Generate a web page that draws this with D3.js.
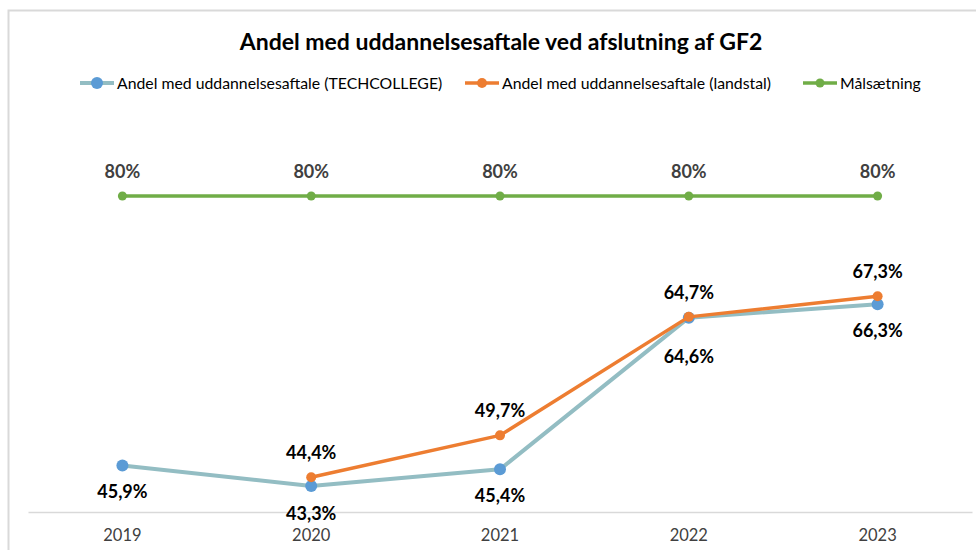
<!DOCTYPE html>
<html>
<head>
<meta charset="utf-8">
<script src="https://cdn.jsdelivr.net/npm/d3@7"></script>
<style>
  body { margin: 0; background: #fff; }
  svg { display: block; font-family: Lato, "Open Sans", sans-serif; }
</style>
</head>
<body>
<svg id="chart" width="976" height="550"></svg>
<script>
const years = ["2019", "2020", "2021", "2022", "2023"];
const techcollege = [45.9, 43.3, 45.4, 64.6, 66.3];
const landstal = [null, 44.4, 49.7, 64.7, 67.3];
const maal = [80, 80, 80, 80, 80];
const seriesNames = ["Andel med uddannelsesaftale (TECHCOLLEGE)", "Andel med uddannelsesaftale (landstal)", "Målsætning"];

const svg = d3.select("#chart");
const margin = {top: 117, left: 28, right: 4, bottom: 38};
const width = 976, height = 550;

// outer frame
svg.append("path")
  .attr("d", "M8.5," + height + " V10.5 H" + width)
  .attr("fill", "none").attr("stroke", "#d9d9d9").attr("stroke-width", 2);

const x = d3.scaleBand().domain(years).range([margin.left, width - margin.right]);
const y = d3.scaleLinear().domain([40, 90]).range([height - margin.bottom, margin.top]);
const cx = d => x(d) + x.bandwidth() / 2;

// title
svg.append("text").attr("x", 501).attr("y", 50).attr("text-anchor", "middle")
  .attr("font-size", 23).attr("font-weight", "bold").attr("fill", "#000")
  .text("Andel med uddannelsesaftale ved afslutning af GF2");

// x axis
const xAxis = svg.append("g").attr("transform", "translate(0," + y(40) + ")")
  .call(d3.axisBottom(x).tickSize(0).tickPadding(17));
xAxis.select(".domain").attr("stroke", "#d9d9d9").attr("stroke-width", 1.5);
xAxis.selectAll("text").attr("font-size", 16.5).attr("fill", "#404040").attr("font-family", "Lato, sans-serif");

const series = [
  {name: seriesNames[0], values: techcollege, line: "#93bdc3", dot: "#5b9bd5", lw: 4, r: 6},
  {name: seriesNames[1], values: landstal, line: "#ed7d31", dot: "#ed7d31", lw: 3.5, r: 5},
  {name: seriesNames[2], values: maal, line: "#70ad47", dot: "#70ad47", lw: 3.5, r: 4.5}
];

const line = d3.line()
  .defined(d => d.v != null)
  .x(d => cx(d.year)).y(d => y(d.v));

// draw green first, then techcollege, then orange on top
[series[2], series[0], series[1]].forEach(s => {
  const pts = years.map((yr, i) => ({year: yr, v: s.values[i]}));
  svg.append("path").datum(pts)
    .attr("fill", "none").attr("stroke", s.line).attr("stroke-width", s.lw)
    .attr("stroke-linejoin", "round").attr("d", line);
  svg.selectAll(null).data(pts.filter(d => d.v != null)).enter().append("circle")
    .attr("cx", d => cx(d.year)).attr("cy", d => y(d.v))
    .attr("r", s.r).attr("fill", s.dot);
});

const fmt = v => d3.format(".1f")(v).replace(".", ",") + "%";

// data labels
svg.selectAll(null).data(maal).enter().append("text")
  .attr("x", (d, i) => cx(years[i])).attr("y", d => y(d) - 18)
  .attr("text-anchor", "middle").attr("font-size", 18).attr("font-weight", "bold")
  .attr("fill", "#404040").text(d => d + "%");

const techOffsets = [33, 34, 33, 45, 33];
svg.selectAll(null).data(techcollege).enter().append("text")
  .attr("x", (d, i) => cx(years[i])).attr("y", (d, i) => y(d) + techOffsets[i])
  .attr("text-anchor", "middle").attr("font-size", 18).attr("font-weight", "bold")
  .attr("fill", "#000").text(d => fmt(d));

svg.selectAll(null).data(landstal.map((v, i) => ({v, i})).filter(d => d.v != null)).enter().append("text")
  .attr("x", d => cx(years[d.i])).attr("y", d => y(d.v) - 18)
  .attr("text-anchor", "middle").attr("font-size", 18).attr("font-weight", "bold")
  .attr("fill", "#000").text(d => fmt(d.v));

// legend
const legendX = [80, 465, 803];
series.forEach((s, i) => {
  const g = svg.append("g").attr("transform", "translate(" + legendX[i] + ",83)");
  g.append("line").attr("x1", 0).attr("x2", 34).attr("y1", 0).attr("y2", 0)
    .attr("stroke", s.line).attr("stroke-width", s.lw);
  g.append("circle").attr("cx", 17).attr("cy", 0).attr("r", s.r).attr("fill", s.dot);
  g.append("text").attr("x", 37).attr("y", 5.5).attr("font-size", 15.8)
    .attr("fill", "#000").text(s.name);
});
</script>
</body>
</html>
